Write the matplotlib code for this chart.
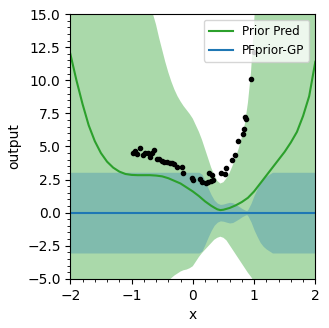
import numpy as np
import matplotlib
matplotlib.use("Agg")
import matplotlib.pyplot as plt

# observed points
x_obs = [-0.98, -0.944, -0.906, -0.863, -0.819, -0.781, -0.737, -0.699, -0.661, -0.639,
         -0.59, -0.547, -0.509, -0.471, -0.427, -0.373, -0.335, -0.308, -0.253, -0.182,
         -0.166, -0.014, -0.003, 0.117, 0.144, 0.21, 0.253, 0.269, 0.291, 0.307, 0.335,
         0.456, 0.526, 0.537, 0.635, 0.694, 0.743, 0.825, 0.841, 0.857, 0.868, 0.945, 0.999]
y_obs = [4.47, 4.67, 4.42, 4.9, 4.32, 4.47, 4.52, 4.22, 4.47, 4.72,
         4.02, 4.02, 3.92, 3.82, 3.82, 3.72, 3.72, 3.67, 3.46, 3.46,
         3.01, 2.63, 2.46, 2.51, 2.33, 2.25, 2.33, 3.01, 2.41, 2.83, 2.46,
         2.96, 2.91, 3.34, 3.96, 4.34, 5.42, 5.93, 6.31, 7.19, 7.11, 10.06, 12.1]

# prior predictive mean
x_mean = [-2.0, -1.9, -1.8, -1.7, -1.6, -1.5, -1.4, -1.3, -1.2, -1.1, -1.0, -0.9, -0.8,
          -0.7, -0.6, -0.5, -0.4, -0.3, -0.2, -0.1, 0.0, 0.1, 0.2, 0.3, 0.35, 0.4, 0.45,
          0.5, 0.6, 0.7, 0.8, 0.9, 1.0, 1.1, 1.2, 1.3, 1.4, 1.5, 1.6, 1.7, 1.8, 1.9, 2.0]
prior_mean = [12.0, 10.0, 8.2, 6.6, 5.4, 4.5, 3.85, 3.4, 3.1, 2.92, 2.85, 2.83, 2.83,
              2.83, 2.8, 2.74, 2.6, 2.4, 2.2, 1.9, 1.6, 1.25, 0.85, 0.52, 0.38, 0.25, 0.19,
              0.22, 0.35, 0.55, 0.8, 1.12, 1.6, 2.2, 2.8, 3.4, 4.0, 4.6, 5.3, 6.1, 7.3, 8.8, 11.4]

# prior predictive band
x_band = [-2.0, -1.5, -1.0, -0.8, -0.7, -0.65, -0.6, -0.55, -0.5, -0.45, -0.4, -0.35, -0.3,
          -0.25, -0.2, -0.15, -0.1, -0.05, 0.0, 0.05, 0.1, 0.15, 0.2, 0.25, 0.3, 0.35, 0.4,
          0.45, 0.5, 0.55, 0.6, 0.65, 0.7, 0.75, 0.8, 0.85, 0.9, 0.95, 1.0, 1.05, 1.1, 1.5, 2.0]
band_hi = [30, 24, 19, 16.6, 15.7, 15.0, 14.2, 13.2, 12.3, 11.4, 10.6, 9.9, 9.3,
           8.8, 8.4, 8.05, 7.75, 7.45, 7.1, 6.6, 6.1, 5.5, 4.8, 4.1, 3.4, 2.85, 2.4,
           2.2, 2.3, 2.6, 3.0, 3.55, 4.2, 4.85, 5.7, 6.7, 8.3, 10.6, 14.3, 18, 21, 26, 32]
band_lo = [-10, -9, -7.5, -6.6, -6.2, -6.0, -5.8, -5.6, -5.45, -5.3, -5.15, -4.95, -4.75,
           -4.6, -4.45, -4.35, -4.3, -4.2, -4.05, -3.7, -3.35, -3.05, -2.8, -2.55, -2.3, -2.05, -1.9,
           -1.82, -1.9, -2.1, -2.45, -2.8, -3.15, -3.5, -3.85, -4.2, -4.55, -4.85, -5.2, -5.6, -6.0, -8, -9]

# PFprior-GP
x_pf = [-2.0, 0.1, 0.15, 0.2, 0.25, 0.3, 0.35, 0.4, 0.45, 0.5, 0.55, 0.6, 0.65, 0.7,
        0.75, 0.8, 0.85, 0.88, 0.9, 0.95, 1.0, 1.05, 1.1, 1.15, 1.2, 1.25, 1.3, 2.0]
pf_mean = [0.0] * len(x_pf)
pf_half = [3.05, 3.05, 2.9, 2.4, 1.85, 1.35, 0.95, 0.72, 0.62, 0.65, 0.72, 0.78, 0.75, 0.62,
           0.48, 0.32, 0.2, 0.15, 0.25, 0.7, 1.3, 1.8, 2.25, 2.55, 2.75, 2.9, 3.05, 3.05]

pf_mean = np.array(pf_mean)
pf_half = np.array(pf_half)

fig = plt.figure(figsize=(3.29, 3.28), dpi=100)
ax = fig.add_axes([0.2137, 0.150, 0.7447, 0.807])

ax.fill_between(x_band, band_lo, band_hi, color='tab:green', alpha=0.4, lw=0)
ax.plot(x_mean, prior_mean, color='tab:green', lw=1.5, label='Prior Pred')
ax.fill_between(x_pf, pf_mean - pf_half, pf_mean + pf_half, color='tab:blue', alpha=0.3, lw=0)
ax.plot(x_pf, pf_mean, color='tab:blue', lw=1.5, label='PFprior-GP')
ax.scatter(x_obs, y_obs, s=9, c='k', zorder=3)

ax.set_xlim(-2, 2)
ax.set_ylim(-5, 15)
ax.minorticks_on()
ax.tick_params(labelsize=10)
ax.set_xlabel('x', fontsize=10)
ax.set_ylabel('output', fontsize=10)
ax.legend(loc='upper right', fontsize=8.6)

fig.savefig('out.png', dpi=100)
